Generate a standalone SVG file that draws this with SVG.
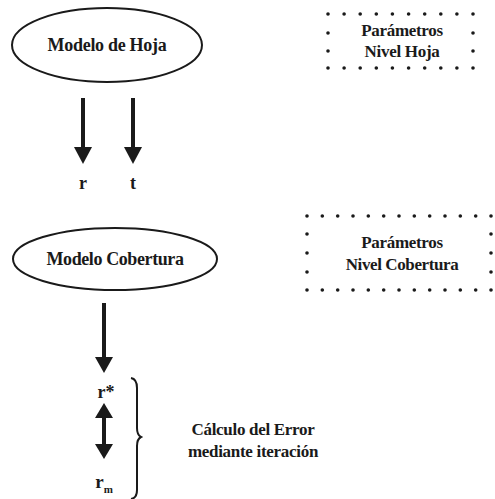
<svg xmlns="http://www.w3.org/2000/svg" width="495" height="499" viewBox="0 0 495 499">
<style>
text{font-family:"Liberation Serif","Tinos","Times New Roman","DejaVu Serif",serif;font-weight:700;fill:#1a1a1a;text-anchor:middle}
.e{fill:none;stroke:#1a1a1a;stroke-width:2}
.ln{stroke:#1a1a1a;stroke-width:4}
.hd{fill:#1a1a1a}
.d{fill:#1a1a1a}
</style>
<rect width="495" height="499" fill="#fff"/>
<g id="modelo-hoja">
<ellipse class="e" cx="107" cy="45" rx="95" ry="37"/>
<text x="107" y="51" font-family="Liberation Serif, serif" font-size="18" letter-spacing="-0.3">Modelo de Hoja</text>
</g>
<g id="param-hoja">
<g class="d">
<circle cx="328" cy="14" r="1.8"/><circle cx="344.1" cy="14" r="1.8"/><circle cx="360.2" cy="14" r="1.8"/><circle cx="376.3" cy="14" r="1.8"/><circle cx="392.4" cy="14" r="1.8"/><circle cx="408.6" cy="14" r="1.8"/><circle cx="424.7" cy="14" r="1.8"/><circle cx="440.8" cy="14" r="1.8"/><circle cx="456.9" cy="14" r="1.8"/><circle cx="473" cy="14" r="1.8"/>
<circle cx="328" cy="68" r="1.8"/><circle cx="344.1" cy="68" r="1.8"/><circle cx="360.2" cy="68" r="1.8"/><circle cx="376.3" cy="68" r="1.8"/><circle cx="392.4" cy="68" r="1.8"/><circle cx="408.6" cy="68" r="1.8"/><circle cx="424.7" cy="68" r="1.8"/><circle cx="440.8" cy="68" r="1.8"/><circle cx="456.9" cy="68" r="1.8"/><circle cx="473" cy="68" r="1.8"/>
<circle cx="328" cy="33" r="1.8"/><circle cx="328" cy="51" r="1.8"/><circle cx="473" cy="33" r="1.8"/><circle cx="473" cy="51" r="1.8"/>
</g>
<text x="402" y="36" font-family="Liberation Serif, serif" font-size="17" letter-spacing="-0.3">Parámetros</text>
<text x="402" y="57" font-family="Liberation Serif, serif" font-size="17" letter-spacing="-0.3">Nivel Hoja</text>
</g>
<g id="label-r">
<text x="83" y="189" font-family="Liberation Serif, serif" font-size="18">r</text>
</g>
<g id="label-t">
<text x="133" y="189" font-family="Liberation Serif, serif" font-size="18">t</text>
</g>
<g id="modelo-cobertura">
<ellipse class="e" cx="115" cy="259" rx="102" ry="31"/>
<text x="115" y="265" font-family="Liberation Serif, serif" font-size="18" letter-spacing="-0.4">Modelo Cobertura</text>
</g>
<g id="param-cobertura">
<g class="d">
<circle cx="307" cy="216" r="1.8"/><circle cx="322.3" cy="216" r="1.8"/><circle cx="337.7" cy="216" r="1.8"/><circle cx="353" cy="216" r="1.8"/><circle cx="368.3" cy="216" r="1.8"/><circle cx="383.7" cy="216" r="1.8"/><circle cx="399" cy="216" r="1.8"/><circle cx="414.3" cy="216" r="1.8"/><circle cx="429.7" cy="216" r="1.8"/><circle cx="445" cy="216" r="1.8"/><circle cx="460.3" cy="216" r="1.8"/><circle cx="475.7" cy="216" r="1.8"/><circle cx="491" cy="216" r="1.8"/>
<circle cx="307" cy="290" r="1.8"/><circle cx="322.3" cy="290" r="1.8"/><circle cx="337.7" cy="290" r="1.8"/><circle cx="353" cy="290" r="1.8"/><circle cx="368.3" cy="290" r="1.8"/><circle cx="383.7" cy="290" r="1.8"/><circle cx="399" cy="290" r="1.8"/><circle cx="414.3" cy="290" r="1.8"/><circle cx="429.7" cy="290" r="1.8"/><circle cx="445" cy="290" r="1.8"/><circle cx="460.3" cy="290" r="1.8"/><circle cx="475.7" cy="290" r="1.8"/><circle cx="491" cy="290" r="1.8"/>
<circle cx="307" cy="234" r="1.8"/><circle cx="307" cy="253" r="1.8"/><circle cx="307" cy="272" r="1.8"/>
<circle cx="491" cy="234" r="1.8"/><circle cx="491" cy="253" r="1.8"/><circle cx="491" cy="272" r="1.8"/>
</g>
<text x="402" y="248" font-family="Liberation Serif, serif" font-size="17" letter-spacing="-0.3">Parámetros</text>
<text x="402" y="270" font-family="Liberation Serif, serif" font-size="17" letter-spacing="-0.4">Nivel Cobertura</text>
</g>
<g id="label-rstar">
<text x="106" y="398" font-family="Liberation Serif, serif" font-size="18">r*</text>
</g>
<g id="label-rm">
<text x="104" y="488" font-family="Liberation Serif, serif" font-size="19">r<tspan font-size="11" dy="5">m</tspan></text>
</g>
<g id="calculo-error">
<text x="253" y="435" font-family="Liberation Serif, serif" font-size="17" letter-spacing="-0.3">Cálculo del Error</text>
<text x="253" y="457" font-family="Liberation Serif, serif" font-size="17" letter-spacing="-0.3">mediante iteración</text>
</g>
<g id="connectors">
<line class="ln" x1="83" y1="98" x2="83" y2="149"/>
<polygon class="hd" points="74,147 92,147 83,164"/>
<line class="ln" x1="133" y1="98" x2="133" y2="149"/>
<polygon class="hd" points="124,147 142,147 133,164"/>
<line class="ln" x1="104" y1="303" x2="104" y2="359"/>
<polygon class="hd" points="95,357 113,357 104,373"/>
<line class="ln" x1="104" y1="416" x2="104" y2="446"/>
<polygon class="hd" points="95,418 113,418 104,403"/>
<polygon class="hd" points="95,444 113,444 104,459"/>
<path d="M131,378 Q137,379 137,388 L137,428 Q137,435 141,437 Q137,439 137,446 L137,490 Q137,498 131,499" fill="none" stroke="#1a1a1a" stroke-width="2"/>
</g>
</svg>
